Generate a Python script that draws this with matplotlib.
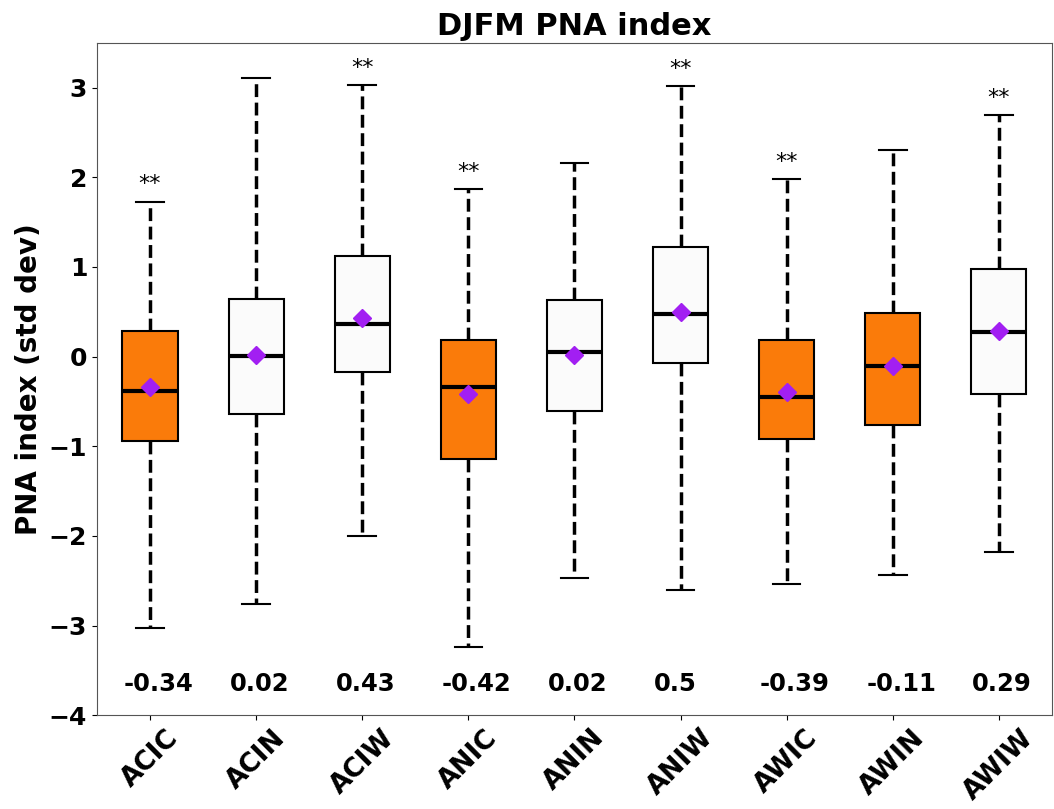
import matplotlib.pyplot as plt

# box statistics
labels = ['ACIC', 'ACIN', 'ACIW', 'ANIC', 'ANIN', 'ANIW', 'AWIC', 'AWIN', 'AWIW']
whislo = [-3.03, -2.76, -2.00, -3.24, -2.47, -2.60, -2.54, -2.44, -2.18]
q1 = [-0.94, -0.64, -0.17, -1.14, -0.61, -0.07, -0.92, -0.76, -0.42]
med = [-0.38, 0.01, 0.36, -0.34, 0.05, 0.47, -0.45, -0.10, 0.28]
q3 = [0.29, 0.64, 1.12, 0.19, 0.63, 1.22, 0.18, 0.49, 0.98]
whishi = [1.73, 3.11, 3.03, 1.87, 2.16, 3.02, 1.98, 2.31, 2.69]
means = [-0.34, 0.02, 0.43, -0.42, 0.02, 0.5, -0.39, -0.11, 0.29]
mean_txt = ['-0.34', '0.02', '0.43', '-0.42', '0.02', '0.5', '-0.39', '-0.11', '0.29']
signif = [True, False, True, True, False, True, True, False, True]
box_colors = ['#fa7b0a', '#fbfbfb', '#fbfbfb', '#fa7b0a', '#fbfbfb',
              '#fbfbfb', '#fa7b0a', '#fa7b0a', '#fbfbfb']

stats = []
for i in range(len(labels)):
    stats.append(dict(label=labels[i], whislo=whislo[i], q1=q1[i], med=med[i],
                      q3=q3[i], whishi=whishi[i], mean=means[i], fliers=[]))

fig = plt.figure(figsize=(10.54, 8.09), dpi=100)
ax = fig.add_axes([0.092, 0.116, 0.906, 0.831])

bp = ax.bxp(stats, positions=range(1, 10), widths=0.52, patch_artist=True,
            showmeans=True,
            boxprops=dict(edgecolor='black', linewidth=1.5),
            whiskerprops=dict(color='black', linewidth=2.5, linestyle='--'),
            capprops=dict(color='black', linewidth=1.5),
            medianprops=dict(color='black', linewidth=3),
            meanprops=dict(marker='D', markerfacecolor='#a21ff2',
                           markeredgecolor='#a21ff2', markersize=9))

for box, c in zip(bp['boxes'], box_colors):
    box.set_facecolor(c)

for i in range(len(labels)):
    if signif[i]:
        ax.text(i + 1, whishi[i] + 0.08, '**', ha='center', va='bottom', fontsize=16)
    # mean values, left aligned at the box edge
    ax.text(i + 1 - 0.25, -3.65, mean_txt[i], ha='left', va='center',
            fontsize=17.5, fontweight='bold')

for s in ax.spines.values():
    s.set_color('#555555')

ax.set_xlim(0.5, 9.5)
ax.set_ylim(-4, 3.5)
ax.set_yticks([-4, -3, -2, -1, 0, 1, 2, 3])
ax.set_xticklabels(labels, rotation=45, fontsize=19, fontweight='bold')
for t in ax.get_yticklabels():
    t.set_fontsize(18)
    t.set_fontweight('bold')
ax.set_ylabel('PNA index (std dev)', fontsize=20, fontweight='bold')
ax.set_title('DJFM PNA index', fontsize=22, fontweight='bold')

plt.savefig('out.png', dpi=100)
